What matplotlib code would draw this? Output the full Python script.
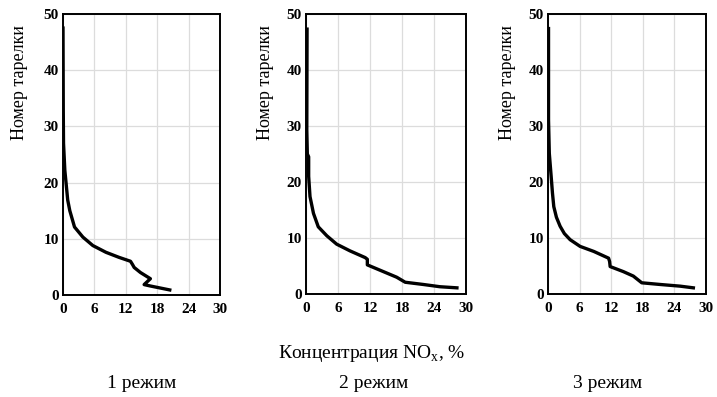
import matplotlib
matplotlib.use("Agg")
import matplotlib.pyplot as plt

plt.rcParams['font.family'] = ['Liberation Serif', 'DejaVu Serif']

# concentration NOx, % (x) vs plate number (y)
mode1_x = [0.0, 0.05, 0.1, 0.35, 0.9, 1.3, 2.2, 3.8, 5.7, 8.2, 10.7, 12.9, 13.3, 13.6, 14.8, 16.7, 15.5, 16.7, 20.4]
mode1_y = [47.5, 33.0, 27.0, 22.2, 16.9, 15.0, 12.1, 10.3, 8.8, 7.6, 6.7, 6.0, 5.4, 4.9, 4.0, 2.9, 1.85, 1.6, 0.9]

mode2_x = [0.2, 0.15, 0.25, 0.5, 0.5, 0.75, 1.4, 2.3, 3.9, 5.75, 8.25, 11.1, 11.5, 11.5, 14.5, 17.0, 18.6, 22.0, 25.1, 28.3]
mode2_y = [47.3, 29.3, 25.0, 24.5, 21.0, 17.4, 14.4, 12.0, 10.4, 8.9, 7.7, 6.5, 6.2, 5.2, 4.0, 3.0, 2.1, 1.7, 1.3, 1.1]

mode3_x = [0.1, 0.1, 0.25, 0.6, 0.85, 1.1, 1.6, 2.3, 3.1, 4.2, 6.1, 8.7, 11.5, 11.7, 11.8, 14.3, 16.2, 17.8, 21.3, 25.1, 27.6]
mode3_y = [47.4, 31.1, 25.1, 21.0, 18.0, 15.6, 13.7, 12.1, 10.8, 9.7, 8.5, 7.6, 6.4, 5.8, 4.9, 4.0, 3.2, 2.0, 1.7, 1.4, 1.1]

x_ticks = [0, 6, 12, 18, 24, 30]
y_ticks = [0, 10, 20, 30, 40, 50]
mode_labels = ["1 режим", "2 режим", "3 режим"]

W, H = 717, 397
fig = plt.figure(figsize=(W / 100, H / 100), dpi=100)

# axes boxes in pixels: left, right, top, bottom
boxes = [(63, 220, 14, 295), (306, 466, 14, 294), (548, 706, 14, 294)]
ylabel_x = [20, 266, 507]
mode_x = [142, 374, 608]
series = [(mode1_x, mode1_y), (mode2_x, mode2_y), (mode3_x, mode3_y)]

for (l, r, t, b), (xs, ys), lx, mx, lab in zip(boxes, series, ylabel_x, mode_x, mode_labels):
    ax = fig.add_axes([l / W, 1 - b / H, (r - l) / W, (b - t) / H])
    ax.plot(xs, ys, color='black', lw=2.4, solid_joinstyle='round')
    ax.set_xlim(0, 30)
    ax.set_ylim(0, 50)
    ax.set_xticks(x_ticks)
    ax.set_yticks(y_ticks)
    ax.grid(True, color='#dcdcdc', lw=0.9)
    ax.set_axisbelow(True)
    ax.tick_params(length=0, labelsize=11)
    ax.tick_params(axis='x', pad=6)
    ax.tick_params(axis='y', pad=3)
    for tl in ax.get_xticklabels() + ax.get_yticklabels():
        tl.set_fontweight('bold')
    for s in ax.spines.values():
        s.set_linewidth(1.4)
    fig.text(lx / W, 1 - 83 / H, "Номер тарелки", rotation=90,
             ha='center', va='center', fontsize=13)
    fig.text(mx / W, 1 - 383 / H, lab, ha='center', va='center', fontsize=14)

fig.text(372 / W, 1 - 353 / H, "Концентрация NO$_\\mathregular{x}$, %",
         ha='center', va='center', fontsize=14)

fig.savefig("out.png", dpi=100)
